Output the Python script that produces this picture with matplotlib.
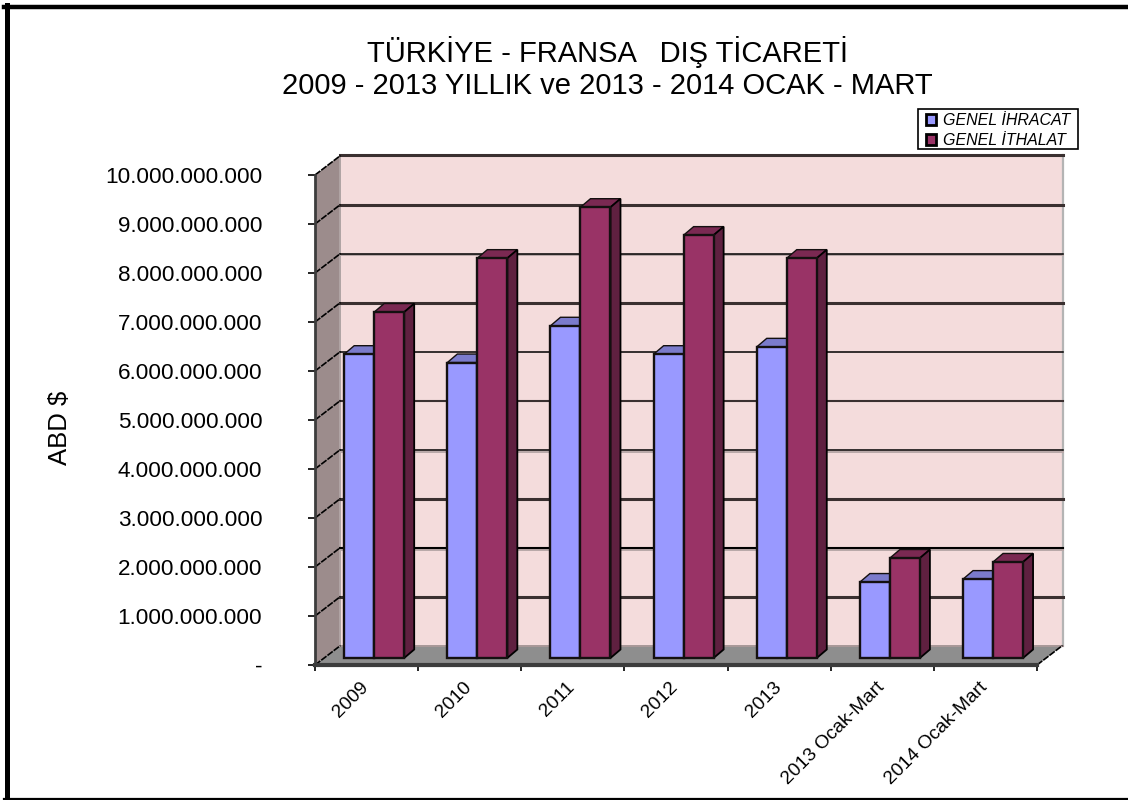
import matplotlib
matplotlib.use("Agg")
import matplotlib.pyplot as plt
from matplotlib.patches import Polygon, Patch, Rectangle
from matplotlib.lines import Line2D

plt.rcParams['font.family'] = ['Liberation Sans', 'DejaVu Sans']

categories = ['2009', '2010', '2011', '2012', '2013', '2013 Ocak-Mart', '2014 Ocak-Mart']
ihracat = [6.20e9, 6.03e9, 6.78e9, 6.20e9, 6.35e9, 1.55e9, 1.61e9]
ithalat = [7.06e9, 8.16e9, 9.20e9, 8.63e9, 8.16e9, 2.04e9, 1.96e9]
yticks = [0, 1e9, 2e9, 3e9, 4e9, 5e9, 6e9, 7e9, 8e9, 9e9, 1e10]
ylabels = ['-', '1.000.000.000', '2.000.000.000', '3.000.000.000', '4.000.000.000',
           '5.000.000.000', '6.000.000.000', '7.000.000.000', '8.000.000.000',
           '9.000.000.000', '10.000.000.000']
# line look of each wall gridline: (width pt, colour, has shadow)
THICK = (2.2, '#3A3030', False)
MED_S = (1.5, '#000000', True)
MED = (1.5, '#3A3030', False)
THIN_S = (1.1, '#000000', True)
THIN = (1.1, '#000000', False)
grid_styles = [None, THICK, MED_S, THICK, THIN_S, MED, THIN, THICK, THIN_S, THICK, THICK]

W, H = 1128, 800
fig = plt.figure(figsize=(W / 100, H / 100), dpi=100, facecolor='white')
L, R, T, B = 315, 1037, 175, 665
ax = fig.add_axes([L / W, 1 - B / H, (R - L) / W, (B - T) / H])
ax.set_xlim(0, len(categories))
ax.set_ylim(0, 1e10)
ax.patch.set_visible(False)
for s in ax.spines.values():
    s.set_visible(False)

PX = len(categories) / (R - L)   # x units per pixel
PY = 1e10 / (B - T)              # y units per pixel
DX, DY = 25.5 * PX, 19.5 * PY    # full depth of the box
n = len(categories)
ymax = 1e10

def poly(pts, fc, ec='none', lw=0, z=1):
    ax.add_patch(Polygon(pts, closed=True, facecolor=fc, edgecolor=ec, linewidth=lw,
                         zorder=z, clip_on=False, joinstyle='miter'))

# walls & floor
poly([(DX, DY), (n + DX, DY), (n + DX, ymax + DY), (DX, ymax + DY)], '#F4DCDC', z=1)
poly([(0, 0), (DX, DY), (DX, ymax + DY), (0, ymax)], '#9C8C8C', z=1)
poly([(0, 0), (DX, DY), (n + DX, DY), (n, 0)], '#8E8E8E', z=1)
ax.plot([n + DX, n + DX], [DY, ymax + DY], color='#B4B4B4', lw=1.6, zorder=2, clip_on=False)
ax.plot([DX, DX], [DY, ymax + DY], color='#B0A4A4', lw=1.4, zorder=2, clip_on=False)
ax.plot([0, 0], [0, ymax], color='#3C3C3C', lw=2.0, zorder=3, clip_on=False)
ax.plot([0, n], [0, 0], color='#3C3C3C', lw=3.0, zorder=3, clip_on=False)
ax.plot([DX, n + DX], [DY, DY], color='#A89898', lw=1.4, zorder=2.2, clip_on=False)

for v, st in zip(yticks, grid_styles):
    if st is not None:
        lw, col, shadow = st
        if shadow:
            ax.plot([DX, n + DX], [v + DY - 2 * PY] * 2, color='#B8A8A8', lw=1.4, zorder=2, clip_on=False)
        ax.plot([DX, n + DX], [v + DY, v + DY], color=col, lw=lw, zorder=2.2, clip_on=False)
    ax.plot([0, DX], [v, v + DY], color='#000000', lw=1.2, ls=(0, (4, 0.7)), zorder=2.2, clip_on=False)
ax.plot([n, n + DX], [0, DY], color='#000000', lw=1.2, ls=(0, (4, 0.7)), zorder=2.2, clip_on=False)

# bars
BW = 30 * PX
shift = 29.2 * PX        # blue bar left edge from category start
d0y = 7 * PY             # base lift of bar front plane
bdx, bdy = 10 * PX, 8.5 * PY
series = [(ihracat, '#9999FF', '#7B7BCC', '#5C5C99', 0),
          (ithalat, '#993366', '#7A2952', '#5F2040', 1)]
for vals, fc, top, side, k in series:
    xs = [i + shift + k * BW + BW / 2 for i in range(n)]
    z = 5 + k
    ax.bar(xs, vals, width=BW, bottom=d0y, color=fc, edgecolor='#141010', linewidth=1.7,
           zorder=z + 0.2, clip_on=False)
    for x, v in zip(xs, vals):
        x0, x1 = x - BW / 2, x + BW / 2
        yt = v + d0y
        poly([(x0, yt), (x1, yt), (x1 + bdx, yt + bdy), (x0 + bdx, yt + bdy)], top, '#141010', 1.0, z)
        poly([(x1, d0y), (x1 + bdx, d0y + bdy), (x1 + bdx, yt + bdy), (x1, yt)], side, '#000000', 1.3, z)

# ticks
ax.set_yticks(yticks)
ax.set_yticklabels(ylabels, fontsize=16.2, color='black')
ax.tick_params(axis='y', length=5, width=1.2, pad=33, color='black')
ax.set_xticks(range(n + 1))
ax.set_xticklabels([])
ax.tick_params(axis='x', which='major', length=4, width=1.2, color='black')
ax.set_xticks([i + 0.5 - 6.5 * PX for i in range(n)], minor=True)
ax.set_xticklabels(categories, minor=True, rotation=45, ha='right', va='top',
                   rotation_mode='anchor', fontsize=13.8, color='black')
ax.tick_params(axis='x', which='minor', length=0, pad=10)

fig.text(60 / W, 1 - 428 / H, 'ABD $', rotation=90, ha='center', va='center', fontsize=18.5)
fig.text(607.5 / W, 1 - 68 / H, 'TÜRKİYE - FRANSA   DIŞ TİCARETİ\n2009 - 2013 YILLIK ve 2013 - 2014 OCAK - MART',
         ha='center', va='center', fontsize=21, linespacing=1.17, color='black')

# legend with its box drawn separately
fig.add_artist(Rectangle((918 / W, 1 - 149 / H), 160 / W, 40 / H, transform=fig.transFigure,
                         facecolor='white', edgecolor='black', linewidth=1.2, zorder=8))
handles = [Patch(facecolor='#9999FF', edgecolor='black', linewidth=2, label='GENEL İHRACAT'),
           Patch(facecolor='#993366', edgecolor='black', linewidth=2, label='GENEL İTHALAT')]
leg = fig.legend(handles=handles, loc='upper left', bbox_to_anchor=(922 / W, 1 - 109 / H),
                 bbox_transform=fig.transFigure, frameon=False, borderpad=0.25, labelspacing=0.3,
                 handlelength=0.65, handleheight=0.65, handletextpad=0.4, borderaxespad=0,
                 prop={'size': 11.5, 'style': 'italic'})
leg.set_zorder(9)

# outer frame
for xs_, ys_, lw in [([6.5, 6.5], [5, 800], 3.6), ([4, 1128], [7, 7], 3.2), ([4, 1128], [799, 799], 1.6)]:
    fig.add_artist(Line2D([x / W for x in xs_], [1 - y / H for y in ys_], color='black', lw=lw,
                          transform=fig.transFigure))

fig.savefig('out.png', dpi=100)
